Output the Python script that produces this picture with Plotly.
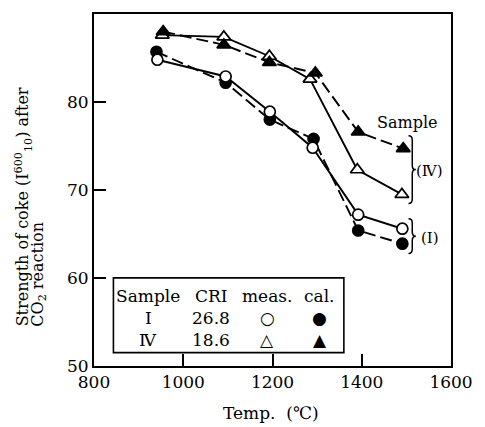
import plotly.graph_objects as go

# Coke strength after CO2 reaction vs. reaction temperature
temp_I = [942, 1095, 1194, 1290, 1392, 1491]
meas_I = [84.8, 82.9, 78.9, 74.8, 67.2, 65.6]
temp_I_cal = [940, 1095, 1194, 1292, 1392, 1491]
cal_I = [85.7, 82.2, 78.0, 75.8, 65.4, 63.9]

temp_IV = [953, 1091, 1193, 1284, 1390, 1490]
meas_IV = [87.6, 87.4, 85.2, 82.6, 72.3, 69.5]
temp_IV_cal = [955, 1091, 1193, 1296, 1392, 1493]
cal_IV = [88.0, 86.5, 84.5, 83.3, 76.6, 74.7]

x_ticks = [800, 1000, 1200, 1400, 1600]
y_ticks = [50, 60, 70, 80]

table_rows = [("Sample", "CRI", "meas.", "cal."),
              ("Ⅰ", "26.8", "○", "●"),
              ("Ⅳ", "18.6", "△", "▲")]

FONT = "DejaVu Serif"
LW = 1.9
DASH = "12px,5px"

fig = go.Figure()


def add_series(x, y, dashed, symbol, filled):
    fig.add_trace(go.Scatter(
        x=x, y=y, mode="lines+markers",
        line=dict(color="black", width=LW, dash=DASH if dashed else "solid"),
        marker=dict(symbol=symbol, size=12 if "triangle" in symbol else 11,
                    color="black" if filled else "white",
                    line=dict(color="black", width=1.7)),
        showlegend=False, cliponaxis=False))


add_series(temp_I_cal, cal_I, True, "circle", True)
add_series(temp_I, meas_I, False, "circle", False)
add_series(temp_IV, meas_IV, False, "triangle-up", False)
add_series(temp_IV_cal, cal_IV, True, "triangle-up", True)

annotations = []
shapes = []


def label(text, x, y, size=16, family=FONT, **kw):
    d = dict(text=text, x=x, y=y, xref="paper", yref="paper", showarrow=False,
             xanchor="center", yanchor="middle",
             font=dict(family=family, size=size, color="black"))
    d.update(kw)
    annotations.append(d)


# key table box
shapes.append(dict(type="rect", xref="paper", yref="paper",
                   x0=0.0544, x1=0.6999, y0=0.038, y1=0.2504,
                   line=dict(color="black", width=1.6), fillcolor="white",
                   layer="above"))
col_x = [0.152, 0.328, 0.485, 0.633]
row_y = [0.198, 0.136, 0.073]
for r, row in enumerate(table_rows):
    for c, txt in enumerate(row):
        label(txt, col_x[c], row_y[r], size=17)


# curly braces grouping the series ends
def brace(x0, x1, x2, ytop, ybot):
    ymid = (ytop + ybot) / 2
    d = 0.012
    path = (f"M {x0},{ytop} Q {x1},{ytop} {x1},{ytop - d} "
            f"L {x1},{ymid + d} Q {x1},{ymid} {x2},{ymid} "
            f"Q {x1},{ymid} {x1},{ymid - d} "
            f"L {x1},{ybot + d} Q {x1},{ybot} {x0},{ybot}")
    return dict(type="path", xref="paper", yref="paper", path=path,
                line=dict(color="black", width=1.5))


shapes.append(brace(0.881, 0.8915, 0.9015, 0.6544, 0.4615))
shapes.append(brace(0.881, 0.8915, 0.9015, 0.4184, 0.3195))

label("Sample", 0.8775, 0.691, size=16)
label("(Ⅳ)", 0.94, 0.553, size=15)
label("(Ⅰ)", 0.94, 0.365, size=15)

# two-line y-axis title, lines aligned at their start
label("Strength of coke (I<sup>600</sup><sub>10</sub>) after",
      -0.1976, 0.1068, size=16, textangle=-90, yanchor="bottom")
label("CO<sub>2</sub> reaction",
      -0.1546, 0.1068, size=16, textangle=-90, yanchor="bottom")

label("Temp.  (℃)", 0.4946, -0.134, size=17)

axis_common = dict(showline=True, linecolor="black", linewidth=2, mirror=True,
                   ticks="inside", ticklen=12, tickwidth=1.6, tickcolor="black",
                   showgrid=False, zeroline=False,
                   tickfont=dict(family=FONT, size=17, color="black"))

fig.update_layout(
    width=485, height=427,
    margin=dict(l=94, r=23, t=13, b=61),
    paper_bgcolor="white", plot_bgcolor="white",
    xaxis=dict(range=[800, 1600], tickvals=x_ticks, **axis_common),
    yaxis=dict(range=[50, 90], tickvals=y_ticks, **axis_common),
    annotations=annotations, shapes=shapes,
)

fig.write_html("out.html")
